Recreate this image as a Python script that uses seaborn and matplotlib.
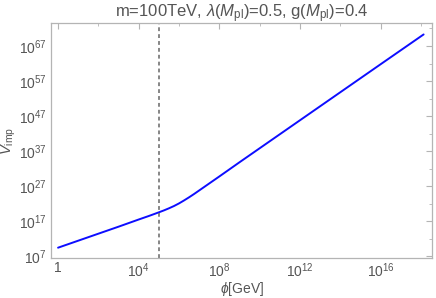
import numpy as np
import pandas as pd
import matplotlib
matplotlib.use("Agg")
import matplotlib.pyplot as plt
import matplotlib.ticker as mticker
import seaborn as sns

# data (log10 values)
log_phi = [0, 1, 2, 3, 4, 4.5, 5, 5.25, 5.5, 5.75, 6, 6.25, 6.5, 6.75, 7, 7.5, 8, 9, 10, 12, 14, 16, 18.13]
log_V = [9.4, 11.4, 13.4, 15.4, 17.45, 18.45, 19.5, 20.05, 20.65, 21.3, 22.05, 22.9, 23.8, 24.75,
         25.75, 27.75, 29.75, 33.8, 37.8, 45.8, 53.8, 61.8, 70.3]
phi_mark = 1e5  # m = 100 TeV

x_tick_exps = [0, 4, 8, 12, 16]
x_minor_exps = [2, 6, 10, 14, 18]
y_tick_exps = [7, 17, 27, 37, 47, 57, 67]
y_minor_exps = [12, 22, 32, 42, 52, 62, 72]

title = r"m=100TeV, $\lambda$($M_{\rm pl}$)=0.5, g($M_{\rm pl}$)=0.4"
xlabel = r"$\phi$[GeV]"
ylabel = r"$V_{\rm imp}$"

sns.set_theme(style="white")
plt.rcParams['font.family'] = ['Liberation Sans', 'DejaVu Sans']
plt.rcParams['mathtext.fontset'] = 'custom'
plt.rcParams['mathtext.rm'] = 'Liberation Sans'
plt.rcParams['mathtext.it'] = 'Liberation Sans:italic'

df = pd.DataFrame({"phi": 10.0 ** np.array(log_phi), "V": 10.0 ** np.array(log_V)})

fig = plt.figure(figsize=(4.36, 2.98), dpi=100)
ax = fig.add_axes([0.117, 0.133, 0.874, 0.789])

sns.lineplot(data=df, x="phi", y="V", ax=ax, color=(0.05, 0.05, 1.0), lw=1.4,
             sort=False, estimator=None)
ax.axvline(phi_mark, color="#666666", lw=1.1, ls=(0, (2.5, 2)))

ax.set_xscale("log")
ax.set_yscale("log")
ax.set_xlim(10 ** -0.35, 10 ** 18.55)
ax.set_ylim(10 ** 6.35, 10 ** 73.5)

ax.xaxis.set_major_locator(mticker.FixedLocator([10.0 ** e for e in x_tick_exps]))
ax.xaxis.set_major_formatter(mticker.FixedFormatter(
    ["1" if e == 0 else r"$10^{%d}$" % e for e in x_tick_exps]))
ax.xaxis.set_minor_locator(mticker.FixedLocator([10.0 ** e for e in x_minor_exps]))
ax.xaxis.set_minor_formatter(mticker.NullFormatter())
ax.yaxis.set_major_locator(mticker.FixedLocator([10.0 ** e for e in y_tick_exps]))
ax.yaxis.set_major_formatter(mticker.FixedFormatter([r"$10^{%d}$" % e for e in y_tick_exps]))
ax.yaxis.set_minor_locator(mticker.FixedLocator([10.0 ** e for e in y_minor_exps]))
ax.yaxis.set_minor_formatter(mticker.NullFormatter())

frame_c = "#b4b4b4"
for s in ax.spines.values():
    s.set_color(frame_c)
    s.set_linewidth(0.9)
ax.tick_params(which="both", direction="in", top=True, right=True, color=frame_c,
               labelcolor="#555555", labelsize=10, pad=3)
ax.tick_params(axis="x", which="major", pad=2)
ax.tick_params(which="major", length=4, width=0.8)
ax.tick_params(which="minor", length=2.5, width=0.6)

ax.set_xlabel(xlabel, color="#555555", fontsize=10, labelpad=0)
ax.set_ylabel(ylabel, color="#555555", fontsize=10.5, labelpad=1)
ax.set_title(title, color="#555555", fontsize=12, pad=4)

fig.savefig("out.png", dpi=100)
